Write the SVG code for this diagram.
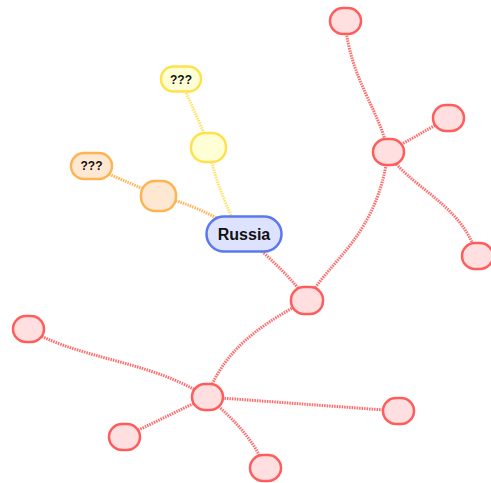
<svg xmlns="http://www.w3.org/2000/svg" width="491" height="483" viewBox="0 0 491 483">
<style>
.e{fill:none;stroke-width:3;stroke-dasharray:1.5 1}
.er{stroke:#ff6b6b}
.ey{stroke:#ffe26a}
.eo{stroke:#ffb45a}
.r{fill:#ffdfe0;stroke:#ff5c5c;stroke-width:2.5}
.y{fill:#ffffd6;stroke:#ffe14d;stroke-width:2.5}
.o{fill:#ffe8d2;stroke:#ffb454;stroke-width:2.5}
.b{fill:#dde3ff;stroke:#5b78f0;stroke-width:2.5}
text{font-family:"Liberation Sans",Arial,sans-serif;font-weight:bold;text-anchor:middle;fill:#111}
</style>
<rect width="491" height="483" fill="#fff"/>
<g id="connectors">
<path class="e ey" d="M238,234 C230,210 215,185 209,148"/>
<path class="e ey" d="M181,79 C188,100 200,120 209,148"/>
<path class="e eo" d="M91,166 C110,175 135,185 159,196"/>
<path class="e eo" d="M159,196 C185,202 215,215 244,234"/>
<path class="e er" d="M244,234 C265,255 290,275 307,300"/>
<path class="e er" d="M307,300 C330,260 378,235 388,152"/>
<path class="e er" d="M388,152 C380,110 350,80 345,21"/>
<path class="e er" d="M388,152 L448,118"/>
<path class="e er" d="M388,152 C405,185 465,205 477,257"/>
<path class="e er" d="M307,300 C270,320 225,345 207,397"/>
<path class="e er" d="M207,397 C150,360 80,360 28,329"/>
<path class="e er" d="M207,397 L398,411"/>
<path class="e er" d="M207,397 L124,437"/>
<path class="e er" d="M207,397 C230,415 255,440 265,468"/>
</g>
<g id="russia"><rect class="b" x="206.5" y="216.5" width="75" height="35" rx="17.5"/><text x="244" y="240" font-size="16">Russia</text></g>
<g id="yellow1"><rect class="y" x="191" y="133" width="35" height="29" rx="14"/></g>
<g id="yellow2"><rect class="y" x="161" y="66.5" width="40" height="25" rx="12.5"/><text x="181" y="83.5" font-size="12">???</text></g>
<g id="orange1"><rect class="o" x="141" y="181" width="35" height="30" rx="14"/></g>
<g id="orange2"><rect class="o" x="71" y="153" width="41" height="26" rx="13"/><text x="91.5" y="170" font-size="12">???</text></g>
<g id="r-hub2"><rect class="r" x="291" y="287" width="32" height="27" rx="13"/></g>
<g id="r-hub1"><rect class="r" x="373" y="139" width="31" height="26" rx="13"/></g>
<g id="r-top"><rect class="r" x="330" y="8" width="31" height="26" rx="13"/></g>
<g id="r-right1"><rect class="r" x="433" y="105" width="31" height="26" rx="13"/></g>
<g id="r-right2"><rect class="r" x="462" y="243" width="31" height="26" rx="13"/></g>
<g id="r-hub3"><rect class="r" x="192" y="384" width="31" height="26" rx="13"/></g>
<g id="r-left"><rect class="r" x="13" y="316" width="31" height="26" rx="13"/></g>
<g id="r-right3"><rect class="r" x="383" y="398" width="31" height="26" rx="13"/></g>
<g id="r-botleft"><rect class="r" x="109" y="424" width="31" height="26" rx="13"/></g>
<g id="r-bottom"><rect class="r" x="250" y="455" width="31" height="26" rx="13"/></g>
</svg>
